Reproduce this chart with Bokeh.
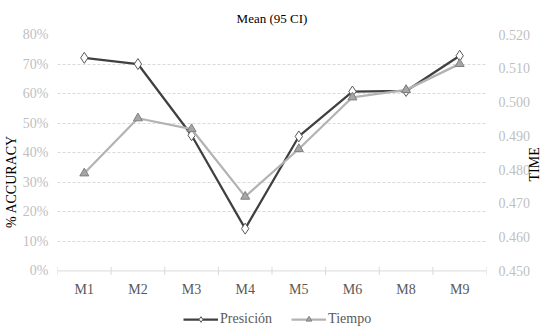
import math
from bokeh.plotting import figure
from bokeh.models import (Range1d, LinearAxis, FixedTicker, NumeralTickFormatter,
                          Legend, LegendItem, ColumnDataSource)
from bokeh.core.properties import value
from bokeh.embed import file_html
from bokeh.resources import INLINE

categories = ["M1", "M2", "M3", "M4", "M5", "M6", "M8", "M9"]
presicion = [0.721, 0.700, 0.459, 0.143, 0.455, 0.607, 0.609, 0.728]
tiempo = [0.4789, 0.4952, 0.4920, 0.4720, 0.4861, 0.5014, 0.5036, 0.5113]
pct_ticks = [0.0, 0.1, 0.2, 0.3, 0.4, 0.5, 0.6, 0.7, 0.8]
time_ticks = [0.45, 0.46, 0.47, 0.48, 0.49, 0.50, 0.51, 0.52]

xs = [i + 0.5 for i in range(len(categories))]
bounds = list(range(len(categories) + 1))
src = ColumnDataSource(dict(x=xs, p=presicion, t=tiempo, cat=categories))
bsrc = ColumnDataSource(dict(x=bounds, y=[pct_ticks[0]] * len(bounds)))

SERIF = "Liberation Serif"

# layout in pixels
W, H = 552, 328
BL, BR, BT = 57, 65, 32
PLOT_PX = 238                 # pixel height of the 0..80% band
EXTRA_PX = H - BT - PLOT_PX   # room below the axis for labels and legend
frac = EXTRA_PX / PLOT_PX

p_lo = pct_ticks[0] - (pct_ticks[-1] - pct_ticks[0]) * frac
t_lo = time_ticks[0] - (time_ticks[-1] - time_ticks[0]) * frac

p = figure(width=W, height=H, x_axis_location=None,
           x_range=Range1d(0, len(categories)), y_range=Range1d(p_lo, pct_ticks[-1]),
           output_backend="svg", toolbar_location=None,
           min_border_left=BL, min_border_right=BR, min_border_top=BT, min_border_bottom=0)
p.outline_line_color = None
p.background_fill_color = "white"
p.border_fill_color = "white"

p.title.text = "Mean (95 CI)"
p.title.align = "center"
p.title.offset = 3
p.title.standoff = 17
p.title.text_font = SERIF
p.title.text_font_size = "13px"
p.title.text_font_style = "normal"
p.title.text_color = "black"

p.extra_y_ranges = {"t": Range1d(t_lo, time_ticks[-1])}

# grid
p.xgrid.grid_line_color = None
p.ygrid.ticker = FixedTicker(ticks=pct_ticks[1:])
p.ygrid.grid_line_color = "#d9d9d9"
p.ygrid.grid_line_dash = "3 2"
p.ygrid.grid_line_width = 1

# left y axis
ya = p.yaxis[0]
ya.ticker = FixedTicker(ticks=pct_ticks)
ya.formatter = NumeralTickFormatter(format="0%")
ya.axis_line_color = None
ya.major_tick_line_color = None
ya.minor_tick_line_color = None
ya.major_tick_out = 0
ya.major_tick_in = 0
ya.major_label_text_font = SERIF
ya.major_label_text_font_size = "14px"
ya.major_label_text_color = "#bfbfbf"
ya.major_label_standoff = 9
ya.axis_label = "% ACCURACY"
ya.axis_label_text_font = SERIF
ya.axis_label_text_font_size = "14px"
ya.axis_label_text_font_style = "normal"
ya.axis_label_text_color = "black"
ya.axis_label_standoff = 1

# right y axis
ra = LinearAxis(y_range_name="t", ticker=FixedTicker(ticks=time_ticks),
                formatter=NumeralTickFormatter(format="0.000"))
ra.axis_line_color = None
ra.major_tick_line_color = None
ra.minor_tick_line_color = None
ra.major_tick_out = 0
ra.major_tick_in = 0
ra.major_label_text_font = SERIF
ra.major_label_text_font_size = "14px"
ra.major_label_text_color = "#bfbfbf"
ra.major_label_standoff = 12
ra.axis_label = "TIME"
ra.axis_label_text_font = SERIF
ra.axis_label_text_font_size = "14px"
ra.axis_label_text_font_style = "normal"
ra.axis_label_text_color = "black"
ra.axis_label_standoff = 1
ra.axis_label_orientation = math.pi / 2
p.add_layout(ra, "right")

# category axis drawn at 0%
p.line(x=[bounds[0], bounds[-1]], y=[pct_ticks[0], pct_ticks[0]],
       line_color="#d9d9d9", line_width=1)
p.scatter("x", "y", source=bsrc, marker="dash", angle=math.pi / 2, size=8,
          line_color="#d9d9d9", line_width=1)
p.text("x", pct_ticks[0], text="cat", source=src, text_align="center",
       text_baseline="top", y_offset=11, text_font=value(SERIF),
       text_font_size="14px", text_color="#595959")

# series
l1 = p.line("x", "p", source=src, line_color="#404040", line_width=2.25)
s1 = p.scatter("x", "p", source=src, marker="diamond", size=11,
               fill_color="white", line_color="#595959", line_width=1)
l2 = p.line("x", "t", source=src, y_range_name="t", line_color="#b3b3b3", line_width=2.25)
s2 = p.scatter("x", "t", source=src, y_range_name="t", marker="triangle", size=9,
               fill_color="#a6a6a6", line_color="#808080", line_width=1)

legend = Legend(items=[LegendItem(label="Presición", renderers=[l1, s1]),
                       LegendItem(label="Tiempo", renderers=[l2, s2])],
                location=(126, 1), orientation="horizontal", padding=0, margin=0,
                spacing=19, glyph_width=35, glyph_height=14, label_height=14,
                label_standoff=2, border_line_color=None, background_fill_alpha=0,
                label_text_font=SERIF, label_text_font_size="14px",
                label_text_color="#595959")
p.add_layout(legend)

open("out.html", "w").write(file_html(p, INLINE))
